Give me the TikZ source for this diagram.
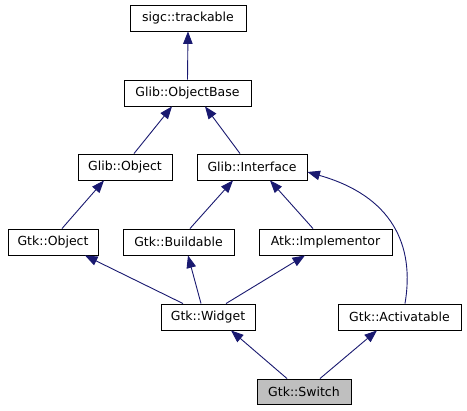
\documentclass[tikz,border=0pt]{standalone}
\usepackage{fontspec}
\setmainfont{DejaVu Sans}
\usetikzlibrary{arrows.meta,calc}
\definecolor{edgeblue}{HTML}{191970}
\definecolor{selgray}{HTML}{BFBFBF}
\begin{document}
\begin{tikzpicture}[x=1pt,y=-1pt,
  cls/.style={draw=black,line width=0.9pt,fill=white,minimum height=26pt,inner sep=0pt,font=\fontsize{12.5}{15}\selectfont},
  inh/.style={draw=edgeblue,line width=0.9pt,-{Triangle[length=12.5pt,width=9.5pt]}}]
\useasboundingbox (0,0) rectangle (467,411);
\fill[white] (0,0) rectangle (467,411);
\node[cls,minimum width=116pt] (trk) at (188,18) {sigc::trackable};
\node[cls,minimum width=127pt] (ob) at (187.5,93) {Glib::ObjectBase};
\node[cls,minimum width=94pt] (gobj) at (125,167) {Glib::Object};
\node[cls,minimum width=110pt] (intf) at (252,167) {Glib::Interface};
\node[cls,minimum width=90pt] (tobj) at (53,242) {Gtk::Object};
\node[cls,minimum width=111pt] (bld) at (178.5,242) {Gtk::Buildable};
\node[cls,minimum width=133pt] (impl) at (325.5,242) {Atk::Implementor};
\node[cls,minimum width=94pt] (wid) at (208,317) {Gtk::Widget};
\node[cls,minimum width=123pt] (act) at (399.5,317) {Gtk::Activatable};
\node[cls,minimum width=94pt,minimum height=25pt,fill=selgray] (sw) at (304,391.5) {Gtk::Switch};

\draw[inh] (ob.north) -- (trk.south);
\draw[inh] ($(gobj.north)+(9,0)$) -- ($(ob.south)+(-15.5,0)$);
\draw[inh] ($(intf.north)+(-12,0)$) -- ($(ob.south)+(17.5,0)$);
\draw[inh] ($(tobj.north)+(9,0)$) -- ($(gobj.south)+(-21,0)$);
\draw[inh] ($(bld.north)+(11.5,0)$) -- ($(intf.south)+(-19,0)$);
\draw[inh] ($(impl.north)+(-12.5,0)$) -- ($(intf.south)+(18,0)$);
\draw[inh] ($(act.north)+(5.5,0)$) .. controls (415,245) and (392,196) .. ($(intf.east)+(0,5)$);
\draw[inh] ($(wid.north)+(-25,0)$) -- ($(tobj.south)+(32,0)$);
\draw[inh] ($(wid.north)+(-7,0)$) -- ($(bld.south)+(9.5,0)$);
\draw[inh] ($(wid.north)+(18,0)$) -- ($(impl.south)+(-20.5,0)$);
\draw[inh] ($(sw.north)+(-17,0)$) -- ($(wid.south)+(23,0)$);
\draw[inh] ($(sw.north)+(16,0)$) -- ($(act.south)+(-22.5,0)$);
\end{tikzpicture}
\end{document}
